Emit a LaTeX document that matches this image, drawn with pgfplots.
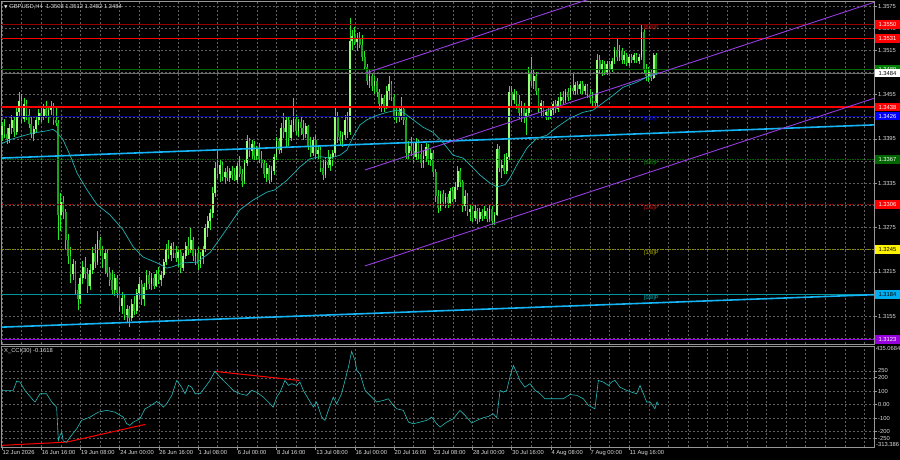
\documentclass[border=0pt]{standalone}
\usepackage{pgfplots}
\pgfplotsset{compat=1.18}
\usepackage{pgfplotstable}
\usepackage{fontspec}
\setmainfont{Liberation Sans}
\newfontfamily\dejavu{DejaVu Sans}
\newcommand\sm{\fontsize{5.8}{6.5}\selectfont}
\definecolor{gridc}{RGB}{95,95,95}
\definecolor{framec}{RGB}{150,150,150}
\definecolor{txt}{RGB}{220,220,220}
\definecolor{bullc}{RGB}{150,255,120}
\definecolor{bearc}{RGB}{25,165,25}
\definecolor{wickc}{RGB}{40,235,40}
\definecolor{mac}{RGB}{32,178,180}
\definecolor{trendc}{RGB}{20,180,245}
\definecolor{chanc}{RGB}{150,60,225}
\definecolor{dred}{RGB}{150,0,0}
\definecolor{lred}{RGB}{200,20,20}
\definecolor{dgreen}{RGB}{0,100,0}
\definecolor{lgreen}{RGB}{0,140,0}
\definecolor{navyc}{RGB}{0,0,150}
\definecolor{olivec}{RGB}{140,140,0}
\definecolor{lolive}{RGB}{190,190,0}
\definecolor{tealc}{RGB}{0,150,160}
\definecolor{lteal}{RGB}{0,190,200}
\definecolor{purplec}{RGB}{150,0,220}
\definecolor{curc}{RGB}{110,110,110}
\definecolor{ccic}{RGB}{40,185,185}

\pgfplotstableread{
o h l c
1.3400 1.3418 1.3392 1.3412
1.3412 1.3422 1.3396 1.3401
1.3401 1.3410 1.3388 1.3395
1.3395 1.3415 1.3390 1.3410
1.3410 1.3428 1.3402 1.3420
1.3420 1.3425 1.3398 1.3404
1.3404 1.3440 1.3400 1.3432
1.3432 1.3458 1.3425 1.3446
1.3446 1.3456 1.3416 1.3422
1.3422 1.3450 1.3418 1.3442
1.3442 1.3448 1.3420 1.3428
1.3428 1.3436 1.3410 1.3415
1.3415 1.3424 1.3396 1.3402
1.3402 1.3412 1.3392 1.3408
1.3408 1.3426 1.3404 1.3420
1.3420 1.3436 1.3414 1.3430
1.3430 1.3438 1.3418 1.3424
1.3424 1.3442 1.3420 1.3436
1.3436 1.3446 1.3424 1.3428
1.3428 1.3440 1.3416 1.3434
1.3434 1.3446 1.3428 1.3440
1.3440 1.3444 1.3414 1.3420
1.3420 1.3438 1.3412 1.3416
1.3416 1.3420 1.3258 1.3292
1.3292 1.3322 1.3270 1.3310
1.3310 1.3318 1.3286 1.3296
1.3296 1.3300 1.3245 1.3258
1.3258 1.3266 1.3226 1.3236
1.3236 1.3248 1.3200 1.3212
1.3212 1.3232 1.3204 1.3226
1.3226 1.3230 1.3184 1.3190
1.3190 1.3198 1.3163 1.3178
1.3178 1.3212 1.3172 1.3206
1.3206 1.3230 1.3198 1.3222
1.3222 1.3235 1.3205 1.3212
1.3212 1.3220 1.3186 1.3196
1.3196 1.3226 1.3190 1.3218
1.3218 1.3248 1.3212 1.3240
1.3240 1.3252 1.3220 1.3228
1.3228 1.3270 1.3224 1.3258
1.3258 1.3262 1.3236 1.3244
1.3244 1.3250 1.3220 1.3232
1.3232 1.3246 1.3212 1.3240
1.3240 1.3244 1.3208 1.3214
1.3214 1.3222 1.3196 1.3204
1.3204 1.3218 1.3184 1.3190
1.3190 1.3212 1.3182 1.3206
1.3206 1.3210 1.3180 1.3186
1.3186 1.3195 1.3160 1.3168
1.3168 1.3188 1.3158 1.3180
1.3180 1.3184 1.3150 1.3156
1.3156 1.3170 1.3146 1.3164
1.3164 1.3168 1.3140 1.3152
1.3152 1.3178 1.3148 1.3172
1.3172 1.3182 1.3156 1.3162
1.3162 1.3192 1.3158 1.3186
1.3186 1.3208 1.3178 1.3198
1.3198 1.3204 1.3170 1.3178
1.3178 1.3200 1.3168 1.3194
1.3194 1.3218 1.3190 1.3210
1.3210 1.3216 1.3192 1.3198
1.3198 1.3214 1.3190 1.3206
1.3206 1.3212 1.3192 1.3196
1.3196 1.3218 1.3194 1.3212
1.3212 1.3222 1.3198 1.3204
1.3204 1.3216 1.3196 1.3210
1.3210 1.3232 1.3206 1.3228
1.3228 1.3252 1.3224 1.3246
1.3246 1.3258 1.3232 1.3238
1.3238 1.3254 1.3230 1.3250
1.3250 1.3256 1.3234 1.3240
1.3240 1.3250 1.3228 1.3234
1.3234 1.3246 1.3222 1.3242
1.3242 1.3244 1.3213 1.3220
1.3220 1.3240 1.3216 1.3236
1.3236 1.3256 1.3232 1.3250
1.3250 1.3262 1.3238 1.3244
1.3244 1.3274 1.3240 1.3258
1.3258 1.3262 1.3230 1.3236
1.3236 1.3246 1.3224 1.3240
1.3240 1.3248 1.3218 1.3226
1.3226 1.3242 1.3220 1.3236
1.3236 1.3250 1.3226 1.3246
1.3246 1.3280 1.3242 1.3274
1.3274 1.3290 1.3262 1.3284
1.3284 1.3300 1.3272 1.3294
1.3294 1.3330 1.3288 1.3322
1.3322 1.3364 1.3316 1.3356
1.3356 1.3378 1.3342 1.3348
1.3348 1.3366 1.3336 1.3360
1.3360 1.3364 1.3338 1.3344
1.3344 1.3356 1.3334 1.3350
1.3350 1.3358 1.3338 1.3342
1.3342 1.3356 1.3336 1.3352
1.3352 1.3358 1.3340 1.3346
1.3346 1.3356 1.3338 1.3340
1.3340 1.3362 1.3334 1.3358
1.3358 1.3372 1.3344 1.3348
1.3348 1.3354 1.3330 1.3338
1.3338 1.3366 1.3334 1.3362
1.3362 1.3400 1.3358 1.3392
1.3392 1.3396 1.3370 1.3378
1.3378 1.3394 1.3368 1.3388
1.3388 1.3392 1.3366 1.3372
1.3372 1.3386 1.3366 1.3382
1.3382 1.3390 1.3362 1.3368
1.3368 1.3378 1.3356 1.3362
1.3362 1.3366 1.3342 1.3348
1.3348 1.3362 1.3336 1.3356
1.3356 1.3360 1.3334 1.3340
1.3340 1.3358 1.3336 1.3352
1.3352 1.3374 1.3346 1.3370
1.3370 1.3398 1.3366 1.3392
1.3392 1.3396 1.3374 1.3380
1.3380 1.3416 1.3376 1.3410
1.3410 1.3430 1.3396 1.3404
1.3404 1.3426 1.3384 1.3420
1.3420 1.3424 1.3386 1.3396
1.3396 1.3420 1.3392 1.3414
1.3414 1.3450 1.3404 1.3422
1.3422 1.3428 1.3400 1.3406
1.3406 1.3422 1.3398 1.3418
1.3418 1.3424 1.3400 1.3410
1.3410 1.3420 1.3394 1.3402
1.3402 1.3416 1.3396 1.3412
1.3412 1.3414 1.3380 1.3386
1.3386 1.3398 1.3370 1.3376
1.3376 1.3398 1.3372 1.3394
1.3394 1.3400 1.3368 1.3374
1.3374 1.3386 1.3366 1.3380
1.3380 1.3384 1.3350 1.3356
1.3356 1.3366 1.3339 1.3346
1.3346 1.3370 1.3342 1.3364
1.3364 1.3380 1.3356 1.3360
1.3360 1.3374 1.3352 1.3370
1.3370 1.3380 1.3358 1.3376
1.3376 1.3438 1.3372 1.3426
1.3426 1.3432 1.3390 1.3398
1.3398 1.3406 1.3386 1.3392
1.3392 1.3404 1.3384 1.3400
1.3400 1.3428 1.3394 1.3420
1.3420 1.3432 1.3396 1.3404
1.3404 1.3559 1.3400 1.3528
1.3528 1.3542 1.3516 1.3534
1.3534 1.3546 1.3522 1.3526
1.3526 1.3538 1.3514 1.3532
1.3532 1.3540 1.3518 1.3522
1.3522 1.3536 1.3500 1.3506
1.3506 1.3514 1.3488 1.3492
1.3492 1.3496 1.3468 1.3474
1.3474 1.3488 1.3464 1.3480
1.3480 1.3484 1.3460 1.3466
1.3466 1.3480 1.3456 1.3474
1.3474 1.3478 1.3452 1.3458
1.3458 1.3462 1.3436 1.3442
1.3442 1.3456 1.3432 1.3450
1.3450 1.3454 1.3432 1.3440
1.3440 1.3466 1.3436 1.3460
1.3460 1.3480 1.3448 1.3470
1.3470 1.3474 1.3446 1.3452
1.3452 1.3456 1.3420 1.3426
1.3426 1.3440 1.3416 1.3432
1.3432 1.3438 1.3418 1.3424
1.3424 1.3452 1.3420 1.3436
1.3436 1.3440 1.3414 1.3420
1.3420 1.3424 1.3368 1.3376
1.3376 1.3392 1.3366 1.3386
1.3386 1.3398 1.3372 1.3378
1.3378 1.3390 1.3364 1.3370
1.3370 1.3396 1.3366 1.3390
1.3390 1.3394 1.3366 1.3374
1.3374 1.3388 1.3356 1.3362
1.3362 1.3378 1.3356 1.3372
1.3372 1.3390 1.3364 1.3384
1.3384 1.3388 1.3360 1.3366
1.3366 1.3382 1.3358 1.3376
1.3376 1.3380 1.3344 1.3350
1.3350 1.3354 1.3310 1.3318
1.3318 1.3326 1.3294 1.3302
1.3302 1.3324 1.3298 1.3320
1.3320 1.3326 1.3304 1.3310
1.3310 1.3322 1.3302 1.3316
1.3316 1.3320 1.3302 1.3308
1.3308 1.3328 1.3304 1.3324
1.3324 1.3330 1.3310 1.3314
1.3314 1.3336 1.3310 1.3330
1.3330 1.3358 1.3326 1.3352
1.3352 1.3356 1.3330 1.3336
1.3336 1.3340 1.3296 1.3304
1.3304 1.3326 1.3298 1.3318
1.3318 1.3322 1.3290 1.3296
1.3296 1.3306 1.3284 1.3300
1.3300 1.3304 1.3282 1.3288
1.3288 1.3306 1.3284 1.3298
1.3298 1.3302 1.3280 1.3286
1.3286 1.3302 1.3282 1.3296
1.3296 1.3300 1.3284 1.3290
1.3290 1.3304 1.3286 1.3298
1.3298 1.3302 1.3282 1.3286
1.3286 1.3306 1.3282 1.3300
1.3300 1.3304 1.3278 1.3284
1.3284 1.3296 1.3278 1.3292
1.3292 1.3388 1.3290 1.3382
1.3382 1.3386 1.3350 1.3356
1.3356 1.3366 1.3342 1.3360
1.3360 1.3374 1.3348 1.3352
1.3352 1.3376 1.3348 1.3370
1.3370 1.3466 1.3366 1.3458
1.3458 1.3466 1.3440 1.3448
1.3448 1.3462 1.3442 1.3456
1.3456 1.3460 1.3436 1.3442
1.3442 1.3454 1.3422 1.3430
1.3430 1.3446 1.3418 1.3440
1.3440 1.3444 1.3416 1.3424
1.3424 1.3436 1.3400 1.3430
1.3430 1.3492 1.3426 1.3484
1.3484 1.3506 1.3466 1.3474
1.3474 1.3488 1.3462 1.3480
1.3480 1.3486 1.3454 1.3460
1.3460 1.3464 1.3430 1.3436
1.3436 1.3448 1.3426 1.3444
1.3444 1.3446 1.3424 1.3428
1.3428 1.3436 1.3420 1.3432
1.3432 1.3438 1.3420 1.3426
1.3426 1.3440 1.3422 1.3434
1.3434 1.3446 1.3428 1.3442
1.3442 1.3448 1.3430 1.3436
1.3436 1.3452 1.3432 1.3446
1.3446 1.3458 1.3440 1.3452
1.3452 1.3460 1.3442 1.3448
1.3448 1.3462 1.3444 1.3458
1.3458 1.3464 1.3446 1.3452
1.3452 1.3468 1.3448 1.3464
1.3464 1.3484 1.3456 1.3460
1.3460 1.3472 1.3454 1.3468
1.3468 1.3474 1.3456 1.3462
1.3462 1.3474 1.3456 1.3470
1.3470 1.3474 1.3456 1.3460
1.3460 1.3470 1.3454 1.3466
1.3466 1.3470 1.3450 1.3456
1.3456 1.3462 1.3444 1.3450
1.3450 1.3458 1.3438 1.3446
1.3446 1.3456 1.3440 1.3444
1.3444 1.3510 1.3440 1.3502
1.3502 1.3508 1.3484 1.3490
1.3490 1.3502 1.3480 1.3496
1.3496 1.3500 1.3482 1.3486
1.3486 1.3500 1.3482 1.3496
1.3496 1.3500 1.3486 1.3490
1.3490 1.3504 1.3486 1.3500
1.3500 1.3520 1.3496 1.3516
1.3516 1.3530 1.3500 1.3506
1.3506 1.3522 1.3500 1.3514
1.3514 1.3518 1.3496 1.3502
1.3502 1.3514 1.3496 1.3508
1.3508 1.3512 1.3494 1.3498
1.3498 1.3510 1.3494 1.3506
1.3506 1.3510 1.3498 1.3502
1.3502 1.3512 1.3498 1.3508
1.3508 1.3512 1.3498 1.3500
1.3500 1.3510 1.3496 1.3506
1.3506 1.3550 1.3502 1.3540
1.3540 1.3544 1.3484 1.3490
1.3490 1.3496 1.3474 1.3480
1.3480 1.3492 1.3472 1.3486
1.3486 1.3490 1.3474 1.3478
1.3478 1.3512 1.3476 1.3508
1.3508 1.3512 1.3482 1.3484
}\candles

\pgfplotsset{mtstyle/.style={
  scale only axis, width=873pt,
  xmin=-0.4, xmax=355.9,
  axis line style={draw=framec, line width=0.9pt},
  major grid style={draw=gridc, line width=0.45pt, dash pattern=on 2pt off 2pt},
  minor grid style={draw=gridc, line width=0.45pt, dash pattern=on 2pt off 2pt},
  tick style={draw=framec, line width=0.5pt},
  tick label style={font=\sm, text=txt},
  tick align=outside,
  major tick length=2.5pt,
  clip mode=individual,
}}

\begin{document}
\begin{tikzpicture}
\fill[black] (0,0) rectangle (900pt,-460pt);
\useasboundingbox (0,0) rectangle (900pt,-460pt);

\begin{axis}[mtstyle, at={(1pt,-1pt)}, anchor=north west, height=343pt,
  ymin=1.31172, ymax=1.35818,
  xtick={0,8,...,352}, xticklabels={}, xmajorgrids, xtick style={draw=none},
  ytick={1.3125,1.3155,1.3185,1.3215,1.3245,1.3275,1.3305,1.3335,1.3365,1.3395,1.3425,1.3455,1.3485,1.3515,1.3545,1.3575},
  yticklabels={,1.3155,,1.3215,,1.3275,,1.3335,,1.3395,,1.3455,,1.3515,1.3545,1.3575},
  ymajorgrids, ytick pos=right, yticklabel pos=right,
  yticklabel style={anchor=west, inner xsep=1.5pt},
]
% candles
\addplot[quiver={u=0, v=\thisrow{h}-\thisrow{l}}, draw=wickc, line width=0.7pt]
  table[x expr=\coordindex, y=l] {\candles};
\addplot[quiver={u=0, v=\thisrow{c}-\thisrow{o}}, draw=bullc, line width=1.8pt,
  restrict expr to domain={\thisrow{c}-\thisrow{o}}{0:1}]
  table[x expr=\coordindex, y=o] {\candles};
\addplot[quiver={u=0, v=\thisrow{c}-\thisrow{o}}, draw=bearc, line width=1.8pt,
  restrict expr to domain={\thisrow{c}-\thisrow{o}}{-1:0}]
  table[x expr=\coordindex, y=o] {\candles};
% horizontal levels
\addplot[dred, line width=0.6pt] coordinates {(-1,1.3550) (357,1.3550)};
\addplot[red, line width=1.6pt] coordinates {(-1,1.3531) (357,1.3531)};
\addplot[dgreen, line width=0.6pt] coordinates {(-1,1.3489) (357,1.3489)};
\addplot[curc, line width=0.6pt] coordinates {(-1,1.3484) (357,1.3484)};
\addplot[red, line width=1.6pt] coordinates {(-1,1.3438) (357,1.3438)};
\addplot[navyc, line width=0.6pt] coordinates {(-1,1.3426) (357,1.3426)};
\addplot[dgreen, line width=0.6pt, dash pattern=on 1.5pt off 1pt] coordinates {(-1,1.3367) (357,1.3367)};
\addplot[dred, line width=0.6pt, dash pattern=on 1.5pt off 1pt] coordinates {(-1,1.3306) (357,1.3306)};
\addplot[olivec, line width=0.6pt, dash pattern=on 1.5pt off 1pt] coordinates {(-1,1.3245) (357,1.3245)};
\addplot[tealc, line width=0.6pt] coordinates {(-1,1.3184) (357,1.3184)};
\addplot[purplec, line width=0.6pt] coordinates {(-1,1.3123) (357,1.3123)};
% trend lines
\addplot[trendc, line width=1.6pt] coordinates {(-0.4,1.3369) (355.9,1.3414)};
\addplot[trendc, line width=1.6pt] coordinates {(-0.4,1.3140) (355.9,1.3184)};
% channel
\addplot[chanc, line width=0.9pt] coordinates {(148.2,1.3484) (355.9,1.3712)};
\addplot[chanc, line width=0.9pt] coordinates {(148.2,1.3353) (355.9,1.3580)};
\addplot[chanc, line width=0.9pt] coordinates {(148.2,1.3223) (355.9,1.3450)};
% moving average
\addplot[mac, line width=0.7pt] coordinates {
(-0.4,1.3388) (3.3,1.3394) (7.3,1.3398) (12.7,1.3403) (18.4,1.3406) (20.8,1.3408)
(22.4,1.3404) (24.9,1.3394) (27.8,1.3373) (30.6,1.3349) (34.7,1.3326) (38.8,1.3306)
(44.1,1.3292) (49.4,1.3272) (53.5,1.3249) (57.6,1.3235) (63.3,1.3227) (67.3,1.3220)
(69.8,1.3222) (73.9,1.3227) (79.6,1.3228) (82.0,1.3234) (84.9,1.3241) (89.0,1.3260)
(97.1,1.3299) (102.4,1.3312) (108.2,1.3323) (111.4,1.3326) (116.3,1.3339) (121.6,1.3357)
(125.7,1.3368) (129.8,1.3371) (133.9,1.3369) (138.0,1.3373) (140.8,1.3380) (143.3,1.3398)
(146.1,1.3414) (149.0,1.3421) (153.1,1.3427) (157.1,1.3431) (161.2,1.3434) (163.7,1.3431)
(167.8,1.3421) (171.8,1.3411) (175.9,1.3404) (180.0,1.3390) (184.1,1.3373) (188.2,1.3369)
(191.0,1.3360) (195.1,1.3346) (199.2,1.3335) (202.0,1.3330) (205.3,1.3333) (207.3,1.3342)
(210.2,1.3360) (214.3,1.3383) (218.4,1.3396) (222.4,1.3400) (226.5,1.3411) (231.8,1.3423)
(237.1,1.3431) (241.2,1.3434) (244.1,1.3441) (249.4,1.3454) (253.5,1.3465) (259.2,1.3472)
(263.3,1.3479) (267.3,1.3484)};
% level texts
\node[anchor=north, font=\fontsize{5.5}{6}\selectfont, text=lred, inner sep=0.5pt] at (axis cs:265,1.3550) {[6/8]P};
\node[anchor=north, font=\fontsize{5.5}{6}\selectfont, text=blue!85!black, inner sep=0.5pt] at (axis cs:265,1.3426) {[4/8]P};
\node[anchor=north, font=\fontsize{5.5}{6}\selectfont, text=lgreen, inner sep=0.5pt] at (axis cs:265,1.3367) {[3/8]P};
\node[anchor=north, font=\fontsize{5.5}{6}\selectfont, text=lred, inner sep=0.5pt] at (axis cs:265,1.3306) {[2/8]P};
\node[anchor=north, font=\fontsize{5.5}{6}\selectfont, text=lolive, inner sep=0.5pt] at (axis cs:265,1.3245) {[1/8]P};
\node[anchor=north, font=\fontsize{5.5}{6}\selectfont, text=lteal, inner sep=0.5pt] at (axis cs:265,1.3184) {[0/8]P};
% title
\node[anchor=north west, font=\sm, text=txt, inner sep=0pt] at ([xshift=3pt,yshift=-3pt]rel axis cs:0,1)
  {{\dejavu\fontsize{4.5}{5}\selectfont ▼}\ GBPUSD,H4\ \ 1.3508 1.3512 1.3482 1.3484};
% anchor coordinates for price boxes
\coordinate (B1) at (axis cs:355.9,1.3550);
\coordinate (B2) at (axis cs:355.9,1.3531);
\coordinate (B3) at (axis cs:355.9,1.3489);
\coordinate (B4) at (axis cs:355.9,1.3484);
\coordinate (B5) at (axis cs:355.9,1.3438);
\coordinate (B6) at (axis cs:355.9,1.3426);
\coordinate (B7) at (axis cs:355.9,1.3367);
\coordinate (B8) at (axis cs:355.9,1.3306);
\coordinate (B9) at (axis cs:355.9,1.3245);
\coordinate (B10) at (axis cs:355.9,1.3184);
\coordinate (B11) at (axis cs:355.9,1.3123);
\end{axis}

\tikzset{pbox/.style={anchor=west, minimum width=25pt, minimum height=8.5pt, inner sep=0pt, font=\sm, xshift=0.8pt}}
\node[pbox, fill=red, text=white] at (B1) {1.3550};
\node[pbox, fill=red, text=white] at (B2) {1.3531};
\node[pbox, fill=green!50!black, text=white] at (B3) {1.3489};
\node[pbox, fill=white, text=black] at (B4) {1.3484};
\node[pbox, fill=red, text=white] at (B5) {1.3438};
\node[pbox, fill=blue, text=white] at (B6) {1.3426};
\node[pbox, fill=green!40!black, text=white] at (B7) {1.3367};
\node[pbox, fill=red, text=white] at (B8) {1.3306};
\node[pbox, fill=yellow, text=black] at (B9) {1.3245};
\node[pbox, fill=cyan, text=black] at (B10) {1.3184};
\node[pbox, fill=purplec, text=white] at (B11) {1.3123};

\begin{axis}[mtstyle, at={(1pt,-346pt)}, anchor=north west, height=101pt,
  ymin=-313.386, ymax=435.0684,
  xtick={0,16,...,256},
  xticklabels={12 Jun 2026,16 Jun 16:00,19 Jun 08:00,24 Jun 00:00,26 Jun 16:00,1 Jul 08:00,6 Jul 00:00,8 Jul 16:00,13 Jul 08:00,16 Jul 00:00,20 Jul 16:00,23 Jul 08:00,28 Jul 00:00,30 Jul 16:00,4 Aug 08:00,7 Aug 00:00,11 Aug 16:00},
  xtick pos=bottom,
  xticklabel style={anchor=north west, inner xsep=0.5pt, inner ysep=1pt},
  minor xtick={0,8,...,352}, xminorgrids, minor tick length=0pt,
  ytick={-250,-200,-100,0,100,200,250},
  yticklabels={-250,-200,-100,0.00,100,200,250},
  ymajorgrids, ytick pos=right, yticklabel pos=right,
  yticklabel style={anchor=west, inner xsep=1.5pt},
]
\addplot[red, line width=1pt] coordinates {(0,-301) (26.5,-277)};
\addplot[red, line width=1pt] coordinates {(26.5,-277) (58.4,-146)};
\addplot[red, line width=1pt] coordinates {(86.9,247) (121.2,180)};
\addplot[ccic, line width=0.6pt] coordinates {
(0,106) (4.6,106) (6.0,175) (7.3,168) (9.4,106) (12.8,32) (13.5,20) (15.5,81) (18.2,81)
(20.3,20) (22.3,-18) (23.0,-264) (23.7,-227) (24.4,-203) (25.0,-269) (26.4,-277) (27.8,-240)
(30.5,-178) (32.5,-116) (35.9,-92) (39.3,-55) (42.7,-42) (46.1,-55) (49.5,-92) (50.9,-141)
(52.2,-153) (53.6,-129) (56.3,-104) (58.4,-30) (59.7,-18) (61.8,7) (63.1,24) (64.5,7)
(65.9,-18) (67.2,7) (69.3,69) (71.3,180) (73.3,130) (74.7,81) (76.1,143) (77.4,130)
(78.8,81) (80.8,81) (82.9,130) (84.9,180) (86.9,247) (89.0,204) (91.7,156) (94.4,106)
(97.1,81) (99.9,69) (101.9,106) (103.9,93) (106.7,56) (108.7,20) (110.7,-18) (112.1,56)
(113.5,93) (115.5,180) (116.9,143) (118.2,156) (120.3,143) (121.6,168) (123.0,106) (125.0,44)
(127.1,-18) (128.4,20) (130.5,-92) (131.8,-116) (133.2,-42) (135.2,56) (136.6,7) (138.6,81)
(140.0,180) (141.4,279) (142.7,395) (144.1,328) (144.8,254) (146.1,230) (148.2,106) (150.2,69)
(152.9,20) (155.7,32) (157.7,44) (159.7,-5) (161.1,-30) (163.8,-42) (165.9,-129) (167.9,-141)
(170.6,-129) (173.3,-116) (175.4,-92) (177.4,-141) (178.8,-166) (181.5,-129) (184.2,-104)
(186.9,-42) (189.0,-79) (191.7,-136) (194.4,-111) (196.5,-96) (198.5,-87) (200.5,-67)
(201.9,-96) (203.3,106) (204.6,93) (206.0,106) (207.3,204) (208.7,291) (210.0,241)
(211.4,180) (213.4,130) (215.5,156) (217.6,106) (219.6,81) (221.6,44) (225.0,44) (229.1,44)
(231.8,76) (234.6,69) (237.3,44) (239.3,-5) (240.7,-18) (242.0,-30) (243.4,180) (245.4,168)
(247.5,143) (248.8,168) (250.2,180) (252.2,130) (255.0,106) (257.0,93) (259.0,81) (260.4,143)
(261.8,81) (263.1,20) (264.5,20) (266.5,-30) (267.3,20) (268.0,0)};
\node[anchor=north west, font=\sm, text=txt, inner sep=0pt] at ([xshift=3pt,yshift=-2pt]rel axis cs:0,1) {X\_CCI(30) -0.1618};
\node[anchor=north west, font=\sm, text=txt, inner sep=0pt] at ([xshift=2pt,yshift=-0.5pt]rel axis cs:1,1) {435.0684};
\node[anchor=south west, font=\sm, text=txt, inner sep=0pt] at ([xshift=2pt,yshift=0.5pt]rel axis cs:1,0) {-313.386};
\end{axis}
\end{tikzpicture}
\end{document}
